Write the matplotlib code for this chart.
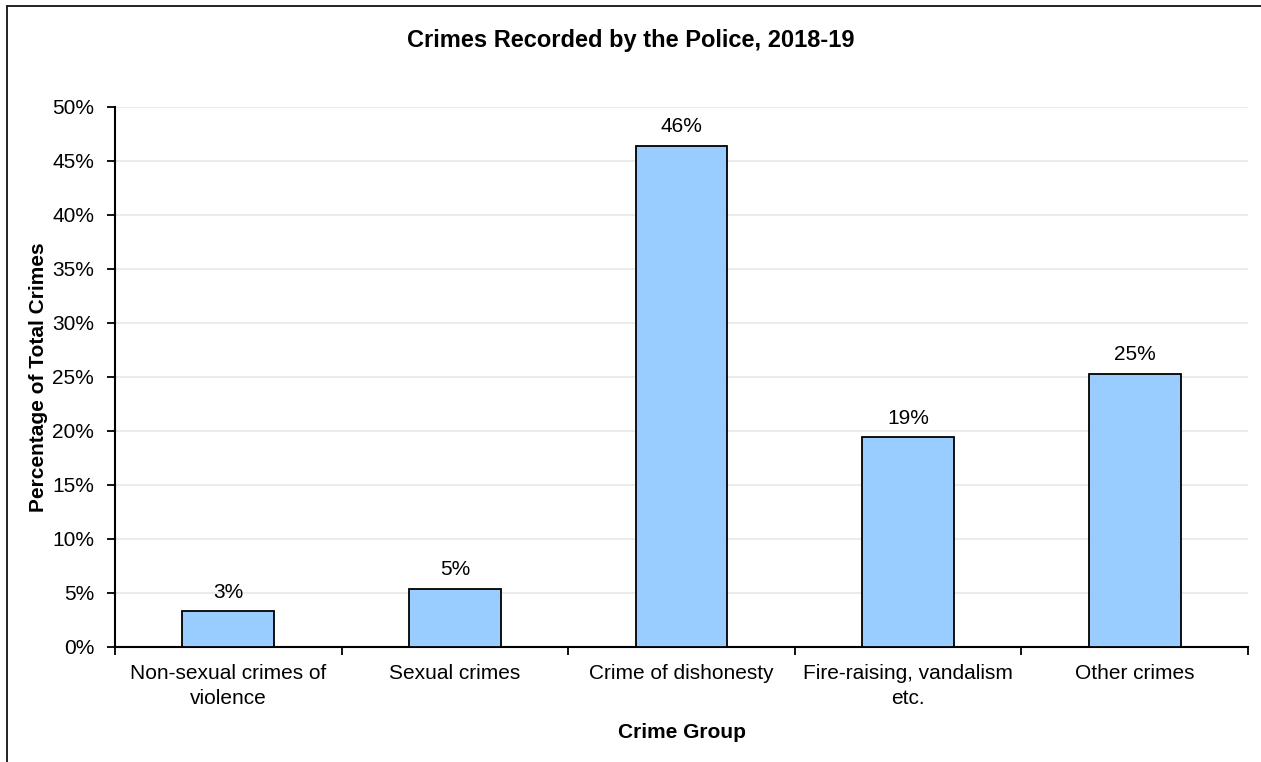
import matplotlib.pyplot as plt
from matplotlib.lines import Line2D
import numpy as np

# crime groups and share of total crimes (%)
categories = ["Non-sexual crimes of\nviolence", "Sexual crimes", "Crime of dishonesty",
              "Fire-raising, vandalism\netc.", "Other crimes"]
values = [3.3, 5.4, 46.4, 19.4, 25.3]
yticks = [0, 5, 10, 15, 20, 25, 30, 35, 40, 45, 50]

plt.rcParams['font.family'] = ['Liberation Sans', 'DejaVu Sans']

fig = plt.figure(figsize=(12.61, 7.62), dpi=100)
ax = fig.add_axes([115/1261, 1 - 647/762, (1248-115)/1261, (647-107)/762])

x = np.arange(len(categories))
bars = ax.bar(x, values, width=0.405, color='#99CCFF', edgecolor='black', linewidth=1.3, zorder=3)
for b, v in zip(bars, values):
    ax.text(b.get_x() + b.get_width()/2, v + 0.9, f"{v:.0f}%", ha='center', va='bottom', fontsize=15)

ax.set_xlim(-0.5, len(categories) - 0.5)
ax.set_ylim(0, 50)
ax.set_yticks(yticks)
ax.set_yticklabels([f"{t}%" for t in yticks], fontsize=15)
ax.yaxis.grid(True, color='#ebebeb', linewidth=1.5, zorder=0)
ax.set_axisbelow(True)

# category labels between boundary ticks
ax.set_xticks(np.arange(-0.5, len(categories)), minor=False)
ax.set_xticklabels([])
ax.set_xticks(x, minor=True)
ax.set_xticklabels(categories, minor=True, fontsize=15, linespacing=1.4)
ax.tick_params(axis='x', which='major', length=6, width=1.3, direction='out')
ax.tick_params(axis='x', which='minor', length=0, pad=12)
ax.tick_params(axis='y', length=6, width=1.3, direction='out', pad=9)

for s in ['top', 'right']:
    ax.spines[s].set_visible(False)
for s in ['left', 'bottom']:
    ax.spines[s].set_linewidth(1.5)

ax.set_xlabel("Crime Group", fontsize=15, fontweight='bold', labelpad=11)
ax.set_ylabel("Percentage of Total Crimes", fontsize=15, fontweight='bold', labelpad=3)
fig.text(0.5, 1 - 40/762, "Crimes Recorded by the Police, 2018-19", ha='center', va='center',
         fontsize=17, fontweight='bold')

# chart area border (only left and top edges visible in frame)
fig.add_artist(Line2D([7/1261, 7/1261], [0, 1 - 6/762], color='#222222', linewidth=1.4))
fig.add_artist(Line2D([7/1261, 1], [1 - 6/762, 1 - 6/762], color='#222222', linewidth=1.4))

fig.savefig("out.png", dpi=100)
